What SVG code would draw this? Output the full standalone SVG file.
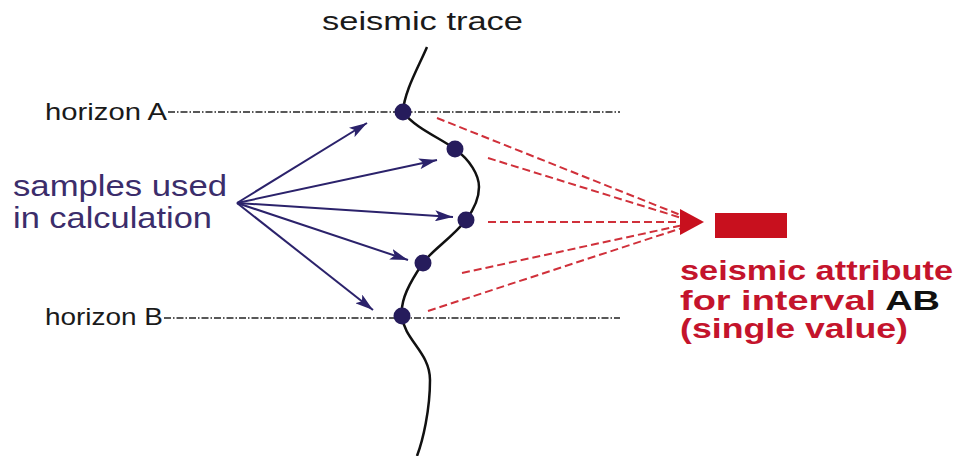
<svg xmlns="http://www.w3.org/2000/svg" width="960" height="456" viewBox="0 0 960 456">
<style>
.lbl{font-family:"Liberation Sans",Arial,sans-serif;fill:#1a1a1a}
.purp{font-family:"Liberation Sans",Arial,sans-serif;fill:#3b2d6b}
.red{font-family:"Liberation Sans",Arial,sans-serif;font-weight:bold;fill:#c4142c}
.hz{stroke:#222;stroke-width:1.5;stroke-dasharray:7 2 1.5 2;fill:none}
.blu{stroke:#2b226b;stroke-width:2;fill:none;marker-end:url(#ab)}
.rd{stroke:#d0303a;stroke-width:2;stroke-dasharray:8 4;fill:none}
.dot{fill:#261c5c}
</style>
<defs>
<marker id="ab" viewBox="0 0 18 11" refX="18" refY="5.5" markerWidth="18" markerHeight="11" markerUnits="userSpaceOnUse" orient="auto">
<path d="M0,0 L18,5.5 L0,11 L4,5.5 Z" fill="#2b226b"/>
</marker>
</defs>
<rect width="960" height="456" fill="#fff"/>
<g id="title"><text class="lbl" x="322" y="30" font-size="26" textLength="201" lengthAdjust="spacingAndGlyphs">seismic trace</text></g>
<g id="horizonA">
<text class="lbl" x="45" y="120" font-size="24" textLength="122" lengthAdjust="spacingAndGlyphs">horizon A</text>
<line class="hz" x1="168" y1="112" x2="620" y2="112"/>
</g>
<g id="horizonB">
<text class="lbl" x="45" y="325" font-size="24" textLength="118" lengthAdjust="spacingAndGlyphs">horizon B</text>
<line class="hz" x1="164" y1="318" x2="620" y2="318"/>
</g>
<g id="trace">
<path d="M427,47 C418,68 404,92 403,112 C415,128 440,138 455,149 C470,160 479,175 479,187 C479,200 472,212 466,220 C452,238 432,250 423,263 C410,282 400,300 402,316 C404,340 430,352 430,380 C430,410 423,440 417,456" fill="none" stroke="#111" stroke-width="2.5"/>
</g>
<g id="samples">
<circle class="dot" cx="403" cy="112" r="8.5"/>
<circle class="dot" cx="455" cy="149" r="8.5"/>
<circle class="dot" cx="466" cy="220" r="8.5"/>
<circle class="dot" cx="423" cy="263" r="8.5"/>
<circle class="dot" cx="402" cy="316" r="8.5"/>
</g>
<g id="samplesLabel">
<text class="purp" x="13" y="196" font-size="29" textLength="214" lengthAdjust="spacingAndGlyphs">samples used</text>
<text class="purp" x="13" y="228" font-size="29" textLength="199" lengthAdjust="spacingAndGlyphs">in calculation</text>
</g>
<g id="connectors">
<line class="blu" x1="237" y1="203" x2="367" y2="123"/>
<line class="blu" x1="237" y1="203" x2="437" y2="160"/>
<line class="blu" x1="237" y1="203" x2="453" y2="217"/>
<line class="blu" x1="237" y1="203" x2="408" y2="260"/>
<line class="blu" x1="237" y1="203" x2="373" y2="310"/>
<line class="rd" x1="437" y1="118" x2="688" y2="218"/>
<line class="rd" x1="488" y1="158" x2="688" y2="220"/>
<line class="rd" x1="488" y1="222" x2="688" y2="222"/>
<line class="rd" x1="462" y1="273" x2="688" y2="224"/>
<line class="rd" x1="428" y1="311" x2="688" y2="226"/>
<path d="M680,209 L704,222 L680,235 Z" fill="#c8101e"/>
</g>
<g id="attribute">
<rect x="715" y="213" width="72" height="25" fill="#c8101e"/>
<text class="red" x="680" y="280" font-size="28" textLength="273" lengthAdjust="spacingAndGlyphs">seismic attribute</text>
<text class="red" x="680" y="310" font-size="28" textLength="260" lengthAdjust="spacingAndGlyphs">for interval <tspan fill="#111">AB</tspan></text>
<text class="red" x="680" y="338" font-size="28" textLength="228" lengthAdjust="spacingAndGlyphs">(single value)</text>
</g>
</svg>
